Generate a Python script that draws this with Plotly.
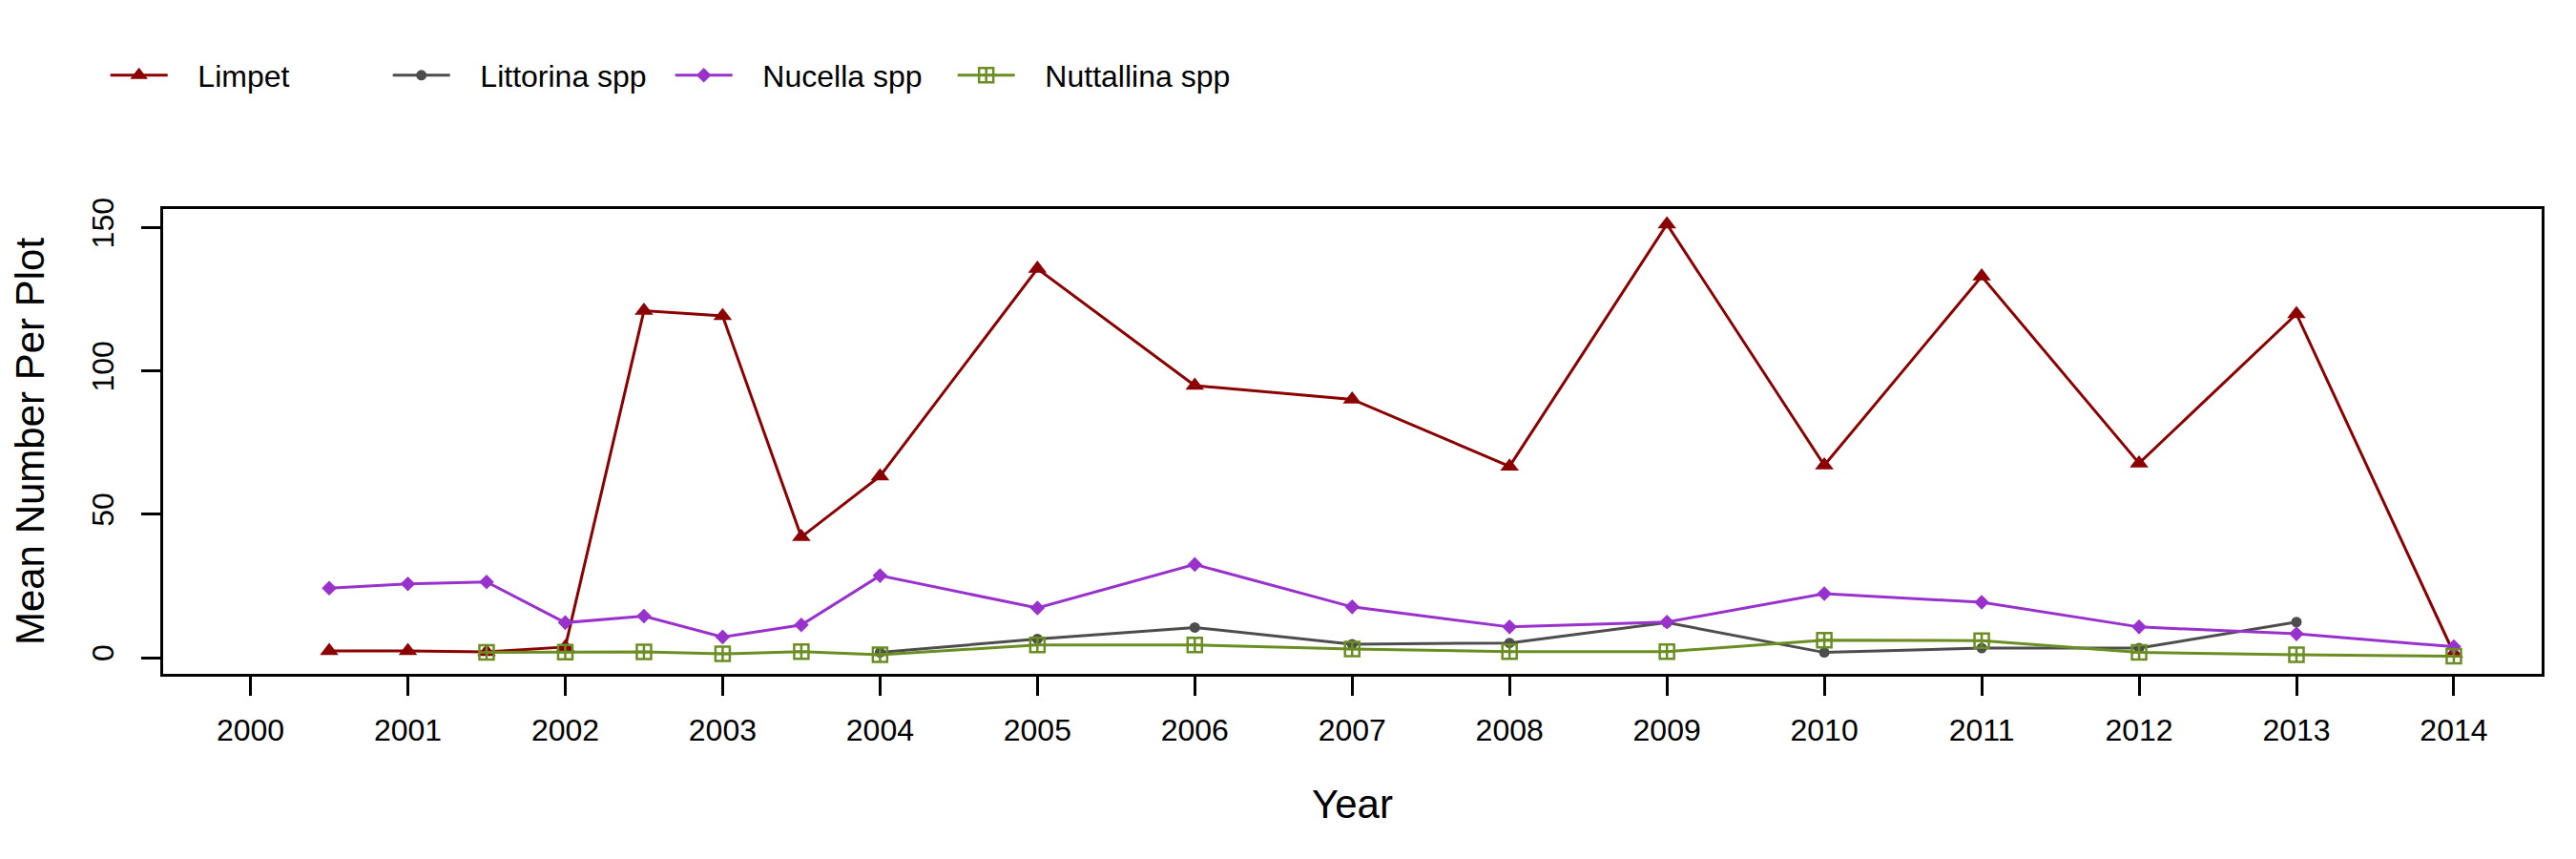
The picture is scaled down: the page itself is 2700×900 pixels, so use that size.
import plotly.graph_objects as go

# Survey positions on the year axis (two surveys per year up to 2004)
survey_x = [2000.5, 2001, 2001.5, 2002, 2002.5, 2003, 2003.5, 2004,
            2005, 2006, 2007, 2008, 2009, 2010, 2011, 2012, 2013, 2014]

limpet = [2.3, 2.3, 2.0, 3.7, 121.0, 119.2, 42.1, 63.3,
          135.7, 94.9, 90.1, 66.7, 151.2, 67.1, 133.0, 67.8, 119.9, 1.5]
littorina = [None, None, None, None, None, None, None, 1.8,
             6.5, 10.5, 4.7, 5.1, 12.2, 1.8, 3.3, 3.3, 12.4, None]
nucella = [24.2, 25.7, 26.4, 12.2, 14.5, 7.2, 11.4, 28.6,
           17.3, 32.5, 17.7, 10.7, 12.4, 22.3, 19.3, 10.7, 8.3, 3.8]
nuttallina = [None, None, 1.8, 1.9, 2.0, 1.3, 2.1, 1.0,
              4.4, 4.4, 3.0, 2.1, 2.1, 6.1, 5.9, 1.8, 1.0, 0.5]

series_names = ["Limpet", "Littorina spp", "Nucella spp", "Nuttallina spp"]
year_ticks = list(range(2000, 2015))
year_labels = [str(y) for y in year_ticks]
y_ticks = [0, 50, 100, 150]

FONT = "Arial, Liberation Sans, sans-serif"
PAD = "\u00a0\u00a0\u00a0"

fig = go.Figure()
fig.add_trace(go.Scatter(x=survey_x, y=limpet, name=PAD + series_names[0], mode="lines+markers",
                         line=dict(color="#8B0000", width=3),
                         marker=dict(symbol="triangle-up", size=17, color="#8B0000")))
fig.add_trace(go.Scatter(x=survey_x, y=littorina, name=PAD + series_names[1], mode="lines+markers",
                         line=dict(color="#4D4D4D", width=3),
                         marker=dict(symbol="circle", size=11, color="#4D4D4D")))
fig.add_trace(go.Scatter(x=survey_x, y=nucella, name=PAD + series_names[2], mode="lines+markers",
                         line=dict(color="#9932CC", width=3),
                         marker=dict(symbol="diamond", size=12, color="#9932CC")))
fig.add_trace(go.Scatter(x=survey_x, y=nuttallina, name=PAD + series_names[3], mode="lines+markers",
                         line=dict(color="#6B8E23", width=3),
                         marker=dict(symbol="square-cross-open", size=15, color="#6B8E23",
                                     line=dict(width=2.5, color="#6B8E23"))))

fig.update_layout(
    width=2700, height=900, autosize=False,
    paper_bgcolor="white", plot_bgcolor="white",
    margin=dict(l=163, r=44, t=211, b=202),
    font=dict(family=FONT, size=32, color="black"),
    showlegend=True,
    legend=dict(orientation="h", x=-0.0242, xanchor="left", y=1.2875, yanchor="middle",
                entrywidth=221, entrywidthmode="pixels", itemwidth=60,
                font=dict(size=32), bgcolor="rgba(0,0,0,0)"),
    xaxis=dict(range=[1999.445, 2014.558], tickmode="array", tickvals=year_ticks,
               ticktext=year_labels, ticks="outside", ticklen=20, tickwidth=3,
               tickcolor="black", showgrid=False, zeroline=False, ticklabelstandoff=9,
               showline=True, linecolor="black", linewidth=3, mirror=True,
               tickfont=dict(size=32),
               title=dict(text="Year", font=dict(size=42), standoff=46)),
    yaxis=dict(range=[-5.66, 156.5], tickmode="array", tickvals=y_ticks,
               ticks="outside", ticklen=20, tickwidth=3, tickcolor="black",
               tickangle=-90, showgrid=False, zeroline=False, ticklabelstandoff=16,
               showline=True, linecolor="black", linewidth=3, mirror=True,
               tickfont=dict(size=32),
               title=dict(text="Mean Number Per Plot", font=dict(size=42), standoff=36)),
)

fig.write_html("out.html")
